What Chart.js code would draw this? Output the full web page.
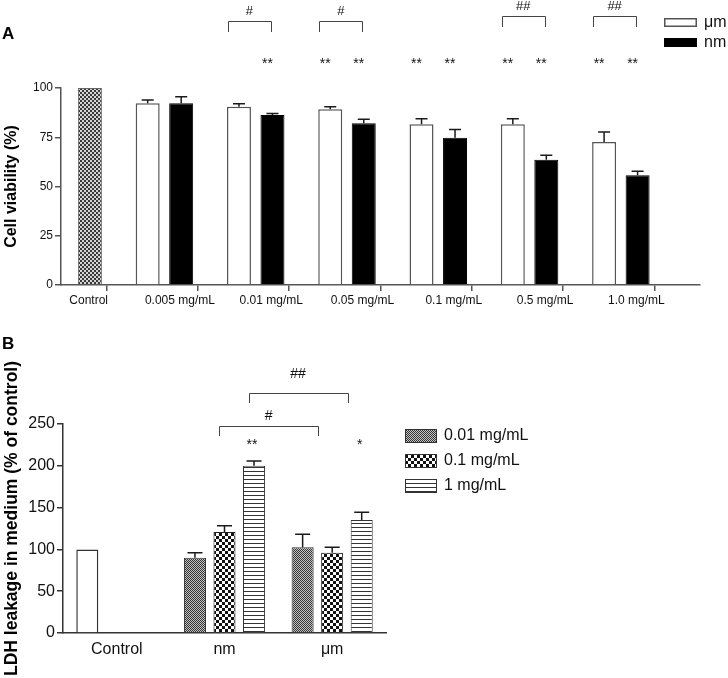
<!DOCTYPE html>
<html><head><meta charset="utf-8">
<script src="https://cdn.jsdelivr.net/npm/chart.js@4.4.1/dist/chart.umd.min.js"></script>
<style>
html,body{margin:0;padding:0;background:#fff;}
#wrap{position:relative;width:728px;height:678px;overflow:hidden;background:#fff;}
canvas{position:absolute;left:0;}
#ca{top:0;}
#cb{top:320px;}
.lab{position:absolute;left:2px;font:bold 17px "Liberation Sans",Arial,Helvetica,sans-serif;line-height:17px;color:#000;}
</style></head><body>
<div id="wrap">
<canvas id="ca" width="728" height="320"></canvas>
<canvas id="cb" width="728" height="358"></canvas>
<div class="lab" style="top:25px">A</div>
<div class="lab" style="top:335px">B</div>
</div>
<script>
// ---------- Panel A data ----------
const catsA = ['Control','0.005 mg/mL','0.01 mg/mL','0.05 mg/mL','0.1 mg/mL','0.5 mg/mL','1.0 mg/mL'];
const controlA = [100, null, null, null, null, null, null];
const umA   = [null, 92.2, 90.5, 89.2, 81.6, 81.6, 72.6];
const nmA   = [null, 92.2, 86.3, 82.1, 74.8, 63.6, 55.7];
const umErrA = [null, 1.7, 1.5, 1.3, 2.8, 2.8, 5.1];
const nmErrA = [null, 3.4, 0.8, 2.0, 4.1, 2.2, 2.0];
const ticksA = [0, 25, 50, 75, 100];
const starsUmA = ['', '', '', '**', '**', '**', '**'];
const starsNmA = ['', '', '**', '**', '**', '**', '**'];
const hashA    = ['', '', '#', '#', '', '##', '##'];

// ---------- Panel B data ----------
const catsB = ['Control', 'nm', 'μm'];
const controlB = [100, null, null];
const b001 = [null, 90, 102.5];
const b01  = [null, 120.8, 96];
const b1   = [null, 200, 135.2];
const err001 = [null, 6, 15.5];
const err01  = [null, 7.6, 6.5];
const err1   = [null, 5.6, 9.3];
const ticksB = [0, 50, 100, 150, 200, 250];
const starsB1 = ['', '**', '*'];
const titleB = 'LDH leakage in medium (% of control)';
// brackets: [dataset index, category index] pairs
const bracketsB = [
  {label:'##', from:[2,1], to:[2,2], level:'high'},
  {label:'#',  from:[1,1], to:[1,2], level:'low'}
];

const FONT = '"Liberation Sans", Arial, Helvetica, sans-serif';
Chart.defaults.font.family = FONT;
Chart.defaults.color = '#111';

function makePattern(w, h, paint){
  const c = document.createElement('canvas'); c.width = w; c.height = h;
  const g = c.getContext('2d'); paint(g); return g.createPattern(c, 'repeat');
}
const patFine2 = makePattern(4,4,g=>{g.fillStyle='#d4d4d4';g.fillRect(0,0,4,4);g.fillStyle='#3a3a3a';g.fillRect(0,0,2,2);g.fillRect(2,2,2,2);});
const patFine1 = makePattern(2,2,g=>{g.fillStyle='#c4c4c4';g.fillRect(0,0,2,2);g.fillStyle='#333';g.fillRect(0,0,1,1);g.fillRect(1,1,1,1);});
const patChecker = makePattern(6,6,g=>{g.fillStyle='#fff';g.fillRect(0,0,6,6);g.fillStyle='#111';g.fillRect(0,0,3,3);g.fillRect(3,3,3,3);});
const patStripes = makePattern(4,4,g=>{g.fillStyle='#fff';g.fillRect(0,0,4,4);g.fillStyle='#333';g.fillRect(0,3,4,1);});

function drawErr(ctx, meta, vals, errs, ys, cap){
  ctx.strokeStyle = '#1a1a1a'; ctx.lineWidth = 1.5;
  vals.forEach((v,i)=>{
    if (v == null || errs[i] == null) return;
    const x = meta.data[i].x;
    const y0 = ys.getPixelForValue(v), y1 = ys.getPixelForValue(v + errs[i]);
    ctx.beginPath();
    ctx.moveTo(x, y0); ctx.lineTo(x, y1);
    ctx.moveTo(x - cap/2, y1); ctx.lineTo(x + cap/2, y1);
    ctx.stroke();
  });
}
function bracket(ctx, x1, x2, y, leg){
  ctx.strokeStyle = '#444'; ctx.lineWidth = 1;
  ctx.beginPath();
  ctx.moveTo(Math.round(x1)+0.5, y+leg); ctx.lineTo(Math.round(x1)+0.5, y+0.5);
  ctx.lineTo(Math.round(x2)+0.5, y+0.5); ctx.lineTo(Math.round(x2)+0.5, y+leg);
  ctx.stroke();
}

// ---------- Chart A ----------
const annotA = {
  id: 'annotA',
  afterDatasetsDraw(chart){
    const ctx = chart.ctx, ys = chart.scales.y, top = chart.chartArea.top;
    const mU = chart.getDatasetMeta(0), mN = chart.getDatasetMeta(1);
    ctx.save();
    drawErr(ctx, mU, umA, umErrA, ys, 12);
    drawErr(ctx, mN, nmA, nmErrA, ys, 12);
    ctx.fillStyle = '#111'; ctx.textAlign = 'center'; ctx.textBaseline = 'alphabetic';
    ctx.font = '14px ' + FONT;
    catsA.forEach((c,i)=>{
      if (starsUmA[i]) ctx.fillText(starsUmA[i], mU.data[i].x - 5, top - 20);
      if (starsNmA[i]) ctx.fillText(starsNmA[i], mN.data[i].x - 5, top - 20);
    });
    ctx.font = '13px ' + FONT;
    hashA.forEach((h,i)=>{
      if (!h) return;
      const yb = Math.round(top - (h.length === 2 ? 72 : 67));
      const x1 = mU.data[i].x - 11, x2 = mN.data[i].x - 1.5;
      bracket(ctx, x1, x2, yb, 11);
      ctx.fillText(h, (x1 + x2)/2, yb - 6);
    });
    ctx.restore();
  },
  afterDraw(chart){
    const ctx = chart.ctx;
    ctx.save();
    ctx.font = '16px ' + FONT; ctx.textAlign = 'left'; ctx.textBaseline = 'middle';
    [0,1].forEach((d,k)=>{
      const ds = chart.data.datasets[d];
      const y = 18 + k*20;
      ctx.fillStyle = ds.backgroundColor; ctx.fillRect(664, y, 33, 9);
      ctx.strokeStyle = ds.borderColor; ctx.lineWidth = 1.5; ctx.strokeRect(664.75, y+0.75, 31.5, 7.5);
      ctx.fillStyle = '#111'; ctx.fillText(ds.label, 704, y + 5);
    });
    ctx.restore();
  }
};

new Chart(document.getElementById('ca'), {
  type: 'bar',
  data: {
    labels: catsA,
    datasets: [
      {label:'μm', data: umA, stack:'s1', backgroundColor:'#ffffff', borderColor:'#555', borderWidth:1.5},
      {label:'nm', data: nmA, stack:'s2', backgroundColor:'#000000', borderColor:'#000', borderWidth:1},
      {label:'Control', data: controlA, stack:'s2', backgroundColor: patFine2, borderColor:'#666', borderWidth:1},
      {label:'', data: catsA.map(()=>null), stack:'s3'},
      {label:'', data: catsA.map(()=>null), stack:'s4'}
    ]
  },
  options: {
    responsive: false, animation: false, devicePixelRatio: 1,
    datasets: { bar: { categoryPercentage: 1.468, barPercentage: 0.716 } },
    layout: { padding: { top: 88, right: 28, left: 0, bottom: 0 } },
    plugins: { legend: { display: false }, tooltip: { enabled: false } },
    scales: {
      x: {
        type: 'category', offset: true,
        grid: { display: true, drawOnChartArea: false, drawTicks: true, tickLength: 6, offset: false, color: '#555', lineWidth: 1.5 },
        border: { display: true, color: '#555', width: 1.5 },
        ticks: { font: { size: 12 }, color: '#111', padding: 2, labelOffset: -18, maxRotation: 0, autoSkip: false },
        afterFit(s){ s.height = 35; }
      },
      y: {
        min: 0, max: 100, stacked: false,
        afterBuildTicks(s){ s.ticks = ticksA.map(v=>({value:v})); },
        grid: { drawOnChartArea: false, drawTicks: true, tickLength: 6, color: '#555', lineWidth: 1.5 },
        border: { display: true, color: '#555', width: 1.5 },
        ticks: { font: { size: 12 }, color: '#111', padding: 2 },
        title: { display: true, text: 'Cell viability (%)', font: { size: 16, weight: 'bold' }, color: '#000', padding: { top: 2, bottom: 0 } },
        afterFit(s){ s.width = 61; }
      }
    }
  },
  plugins: [annotA]
});

// ---------- Chart B ----------
const annotB = {
  id: 'annotB',
  afterDatasetsDraw(chart){
    const ctx = chart.ctx, ys = chart.scales.y, top = chart.chartArea.top;
    const m = [0,1,2].map(i=>chart.getDatasetMeta(i));
    ctx.save();
    drawErr(ctx, m[0], b001, err001, ys, 15);
    drawErr(ctx, m[1], b01, err01, ys, 15);
    drawErr(ctx, m[2], b1, err1, ys, 15);
    ctx.fillStyle = '#111'; ctx.textAlign = 'center'; ctx.textBaseline = 'alphabetic';
    ctx.font = '14px ' + FONT;
    starsB1.forEach((s,i)=>{ if (s) ctx.fillText(s, m[2].data[i].x - 2, top + 25); });
    bracketsB.forEach(b=>{
      const x1 = m[b.from[0]].data[b.from[1]].x - 5.5;
      const x2 = m[b.to[0]].data[b.to[1]].x - 14;
      const high = b.level === 'high';
      const yb = Math.round(high ? top - 31 : top + 1.5);
      bracket(ctx, x1, x2, yb, 10);
      ctx.fillText(b.label, (x1 + x2)/2, yb - (high ? 15.5 : 6));
    });
    ctx.restore();
  },
  afterDraw(chart){
    const ctx = chart.ctx;
    ctx.save();
    // y-axis title
    ctx.font = 'bold 17.5px ' + FONT; ctx.fillStyle = '#000';
    ctx.textAlign = 'center'; ctx.textBaseline = 'middle';
    ctx.translate(12.5, 198.5); ctx.rotate(-Math.PI/2);
    ctx.fillText(titleB, 0, 0);
    ctx.setTransform(1,0,0,1,0,0);
    ctx.font = '16px ' + FONT; ctx.textAlign = 'left'; ctx.textBaseline = 'middle';
    [0,1,2].forEach((d,k)=>{
      const ds = chart.data.datasets[d];
      const y = 109 + k*25;
      ctx.fillStyle = ds.backgroundColor; ctx.fillRect(405, y, 32, 14);
      ctx.strokeStyle = '#333'; ctx.lineWidth = 1; ctx.strokeRect(405.5, y+0.5, 31, 13);
      ctx.fillStyle = '#111'; ctx.fillText(ds.label, 444, y + 7);
    });
    ctx.restore();
  }
};

new Chart(document.getElementById('cb'), {
  type: 'bar',
  data: {
    labels: catsB,
    datasets: [
      {label:'0.01 mg/mL', data: b001, stack:'s1', backgroundColor: patFine1, borderColor:'#333', borderWidth:1},
      {label:'0.1 mg/mL', data: b01, stack:'s2', backgroundColor: patChecker, borderColor:'#222', borderWidth:1},
      {label:'1 mg/mL', data: b1, stack:'s3', backgroundColor: patStripes, borderColor:'#333', borderWidth:1},
      {label:'Control', data: controlB, stack:'s1', backgroundColor:'#ffffff', borderColor:'#333', borderWidth:1.5}
    ]
  },
  options: {
    responsive: false, animation: false, devicePixelRatio: 1,
    datasets: { bar: { categoryPercentage: 0.823, barPercentage: 0.746 } },
    layout: { padding: { top: 104, right: 342, left: 0, bottom: 0 } },
    plugins: { legend: { display: false }, tooltip: { enabled: false } },
    scales: {
      x: {
        type: 'category', offset: true,
        grid: { display: false, drawTicks: false, tickLength: 0 },
        border: { display: true, color: '#333', width: 1.5 },
        ticks: { font: { size: 16 }, color: '#111', padding: 7, maxRotation: 0, autoSkip: false },
        afterFit(s){ s.height = 45; }
      },
      y: {
        min: 0, max: 250, stacked: false,
        afterBuildTicks(s){ s.ticks = ticksB.map(v=>({value:v})); },
        grid: { drawOnChartArea: false, drawTicks: true, tickLength: 6, color: '#333', lineWidth: 1.5 },
        border: { display: true, color: '#333', width: 1.5 },
        ticks: { font: { size: 16 }, color: '#111', padding: 2 },
        title: { display: false, text: titleB },
        afterFit(s){ s.width = 63; }
      }
    }
  },
  plugins: [annotB]
});
</script>
</body></html>
